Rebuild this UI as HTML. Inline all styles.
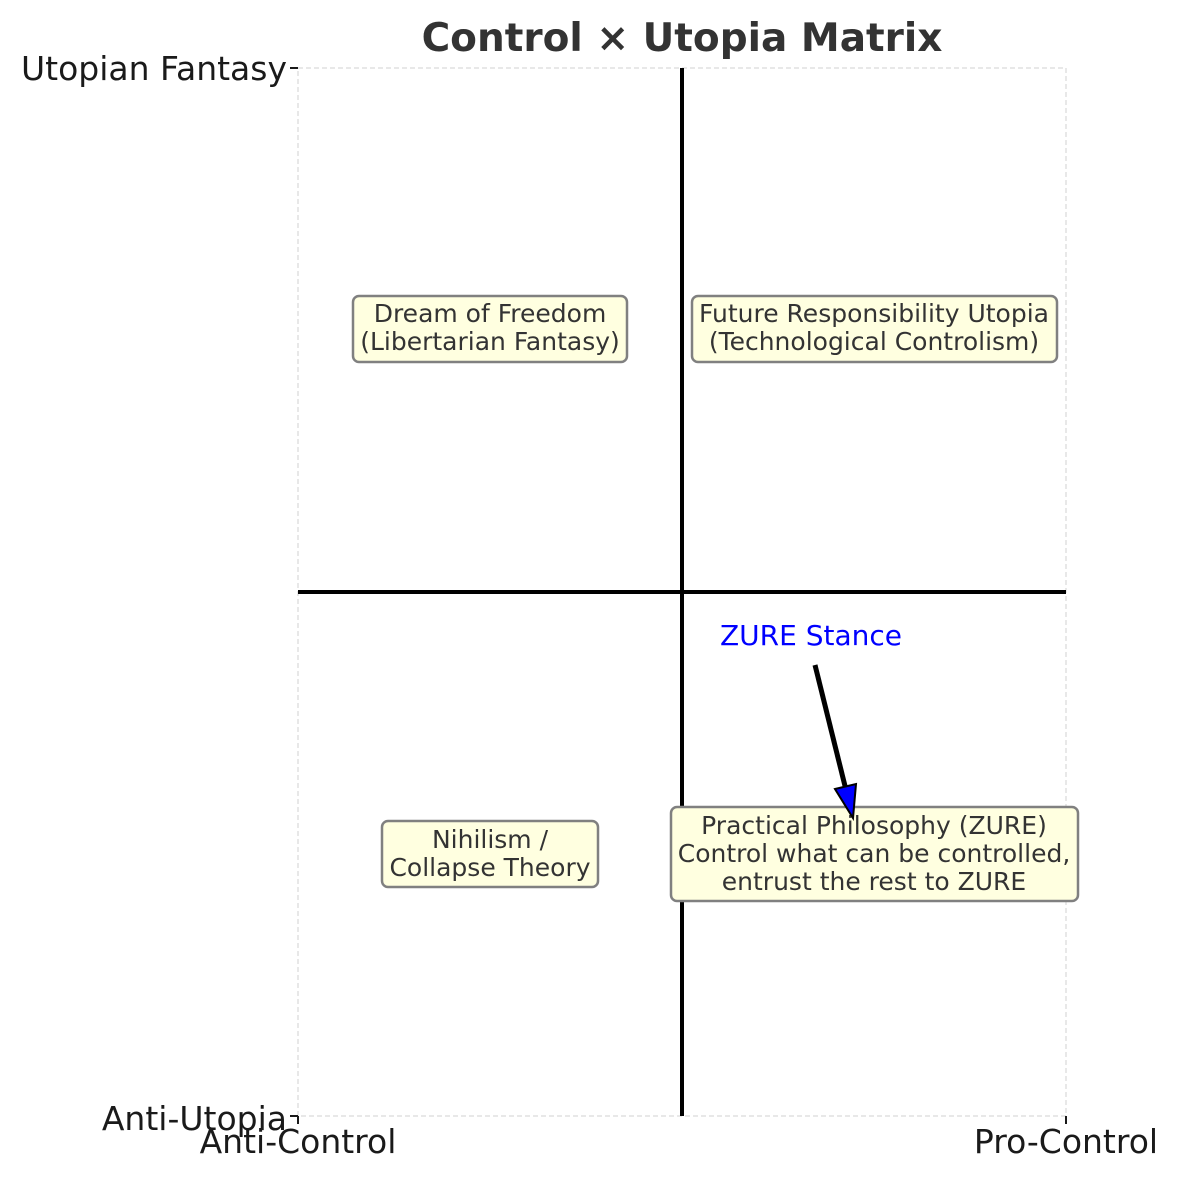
<!DOCTYPE html>
<html><head><meta charset="utf-8"><style>
html,body{margin:0;padding:0;background:#fff;}
svg{display:block;font-family:"DejaVu Sans","Liberation Sans",sans-serif;}
</style></head><body>
<svg width="1180" height="1180" viewBox="0 0 1180 1180" xmlns="http://www.w3.org/2000/svg">
<rect width="1180" height="1180" fill="#fff"/>
<rect x="298" y="68" width="768" height="1048" fill="none" stroke="#d0d0d0" stroke-width="1" stroke-dasharray="5,3"/>
<g stroke="#1a1a1a" stroke-width="2">
<line x1="290" y1="68" x2="298" y2="68"/>
<line x1="290" y1="1116" x2="298" y2="1116"/>
<line x1="298" y1="1116" x2="298" y2="1124"/>
<line x1="1066" y1="1116" x2="1066" y2="1124"/>
</g>
<line x1="682" y1="68" x2="682" y2="1116" stroke="#000" stroke-width="4"/>
<line x1="298" y1="592" x2="1066" y2="592" stroke="#000" stroke-width="4"/>
<text x="682" y="51" text-anchor="middle" font-size="39" font-weight="bold" fill="#333">Control × Utopia Matrix</text>
<g font-size="33" fill="#1a1a1a">
<text x="287" y="80" text-anchor="end">Utopian Fantasy</text>
<text x="287" y="1130" text-anchor="end">Anti-Utopia</text>
<text x="298" y="1153" text-anchor="middle">Anti-Control</text>
<text x="1066" y="1153" text-anchor="middle">Pro-Control</text>
</g>
<g fill="#ffffe0" stroke="#808080" stroke-width="2.5">
<rect x="353" y="296" width="274" height="66" rx="6"/>
<rect x="692" y="296" width="365" height="66" rx="6"/>
<rect x="382" y="821" width="216" height="66" rx="6"/>
<rect x="671" y="807" width="407" height="94" rx="6"/>
</g>
<g font-size="25" fill="#333" text-anchor="middle">
<text x="490" y="322">Dream of Freedom</text>
<text x="490" y="350">(Libertarian Fantasy)</text>
<text x="874" y="322">Future Responsibility Utopia</text>
<text x="874" y="350">(Technological Controlism)</text>
<text x="490" y="848">Nihilism /</text>
<text x="490" y="876">Collapse Theory</text>
<text x="874" y="834">Practical Philosophy (ZURE)</text>
<text x="874" y="862">Control what can be controlled,</text>
<text x="874" y="890">entrust the rest to ZURE</text>
</g>
<text x="811" y="645" text-anchor="middle" font-size="28" fill="#0000ff">ZURE Stance</text>
<line x1="815" y1="665" x2="846" y2="790" stroke="#000" stroke-width="5"/>
<polygon points="835,789 856,784 853,818" fill="#0000ff" stroke="#000" stroke-width="2"/>
</svg>
</body></html>
